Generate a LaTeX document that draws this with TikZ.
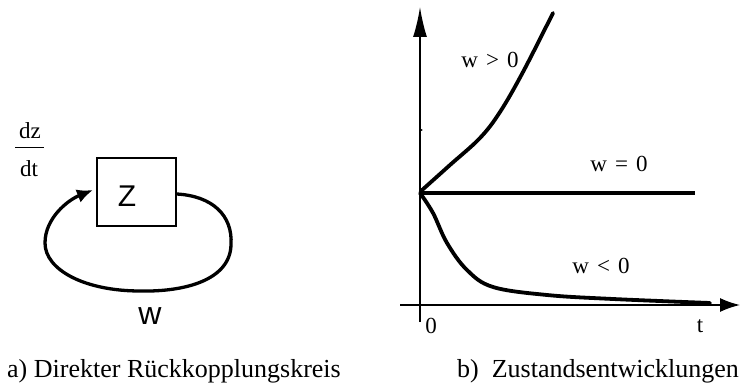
\documentclass[tikz,border=0pt]{standalone}
\usepackage{fontspec}
\setmainfont{Liberation Serif}
\newfontfamily\sansf{Liberation Sans}
\usetikzlibrary{arrows.meta}
\begin{document}
\begin{tikzpicture}[x=1pt,y=-1pt,
  lbl/.style={font=\fontsize{23}{25}\selectfont, inner sep=0pt, anchor=base},
  captext/.style={font=\fontsize{26}{28}\selectfont, inner sep=0pt, anchor=base west},
  thick curve/.style={line width=3.8pt, line join=round, line cap=round},
  axisline/.style={line width=1.6pt}]
\useasboundingbox (0,0) rectangle (740,385);
% left part
\node[font=\fontsize{23}{24}\selectfont, inner sep=0pt, anchor=base] (dz) at (30,139) {dz};
\node[font=\fontsize{23}{24}\selectfont, inner sep=0pt, anchor=base] (dt) at (29,177) {dt};
\coordinate (fl) at (15,148);
\coordinate (fr) at (44,148);
\draw[line width=1pt] (fl) -- (fr);
\node[draw, line width=1.5pt, minimum width=79pt, minimum height=68pt, inner sep=0pt] (z) at (136.5,192) {};
\node[font=\sansf\fontsize{30}{32}\selectfont, inner sep=0pt] (zl) at (127,196) {Z};
\coordinate (r) at (231,245);
\coordinate (b) at (140,291);
\coordinate (l) at (45,243);
\coordinate (tip) at (93,190);
\draw[line width=3.3pt, line join=round, -{Latex[length=16pt,width=14pt]}]
  ([yshift=-2pt]z.east) .. controls (212,196) and (233,215) .. (r)
  .. controls (230,280) and (185,292) .. (b)
  .. controls (85,291) and (45,270) .. (l)
  .. controls (45,218) and (68,200) .. (tip);
\node[font=\sansf\fontsize{32}{34}\selectfont, inner sep=0pt] (w) at (150,316) {w};
% right part
\coordinate (o) at (420,193);
\coordinate (ybot) at (420,322);
\coordinate (ytop) at (420,7);
\coordinate (xl) at (400,305);
\coordinate (xr) at (740,305);
\coordinate (wzend) at (695,193);
\draw[axisline, -{Latex[length=30pt,width=14pt]}] (ybot) -- (ytop);
\draw[axisline, -{Latex[length=20pt,width=14pt]}] (xl) -- (xr);
\fill (421.5,130) circle (1pt);
\draw[thick curve, line cap=butt] (o) -- (wzend);
\draw[thick curve] plot[smooth, tension=0.6] coordinates {(421,191) (450,165) (480,138) (500,112) (523,72) (553,13)};
\draw[thick curve] plot[smooth, tension=0.6] coordinates {(420,193) (433,213) (447,243) (467,270) (493,287) (547,295) (613,299) (710,303)};
\node[lbl] (wp) at (490,68) {w\hspace{.35em}>\hspace{.35em}0};
\node[lbl] (wz) at (619,172) {w\hspace{.35em}=\hspace{.35em}0};
\node[lbl] (wn) at (601,274) {w\hspace{.35em}<\hspace{.35em}0};
\node[lbl] (zero) at (431,334) {0};
\node[lbl] (t) at (700,332) {t};
% captions
\node[captext] (ca) at (7,377) {a) Direkter Rückkopplungskreis};
\node[captext] (cb) at (457,377) {b)\ \ Zustandsentwicklungen};
\end{tikzpicture}
\end{document}
